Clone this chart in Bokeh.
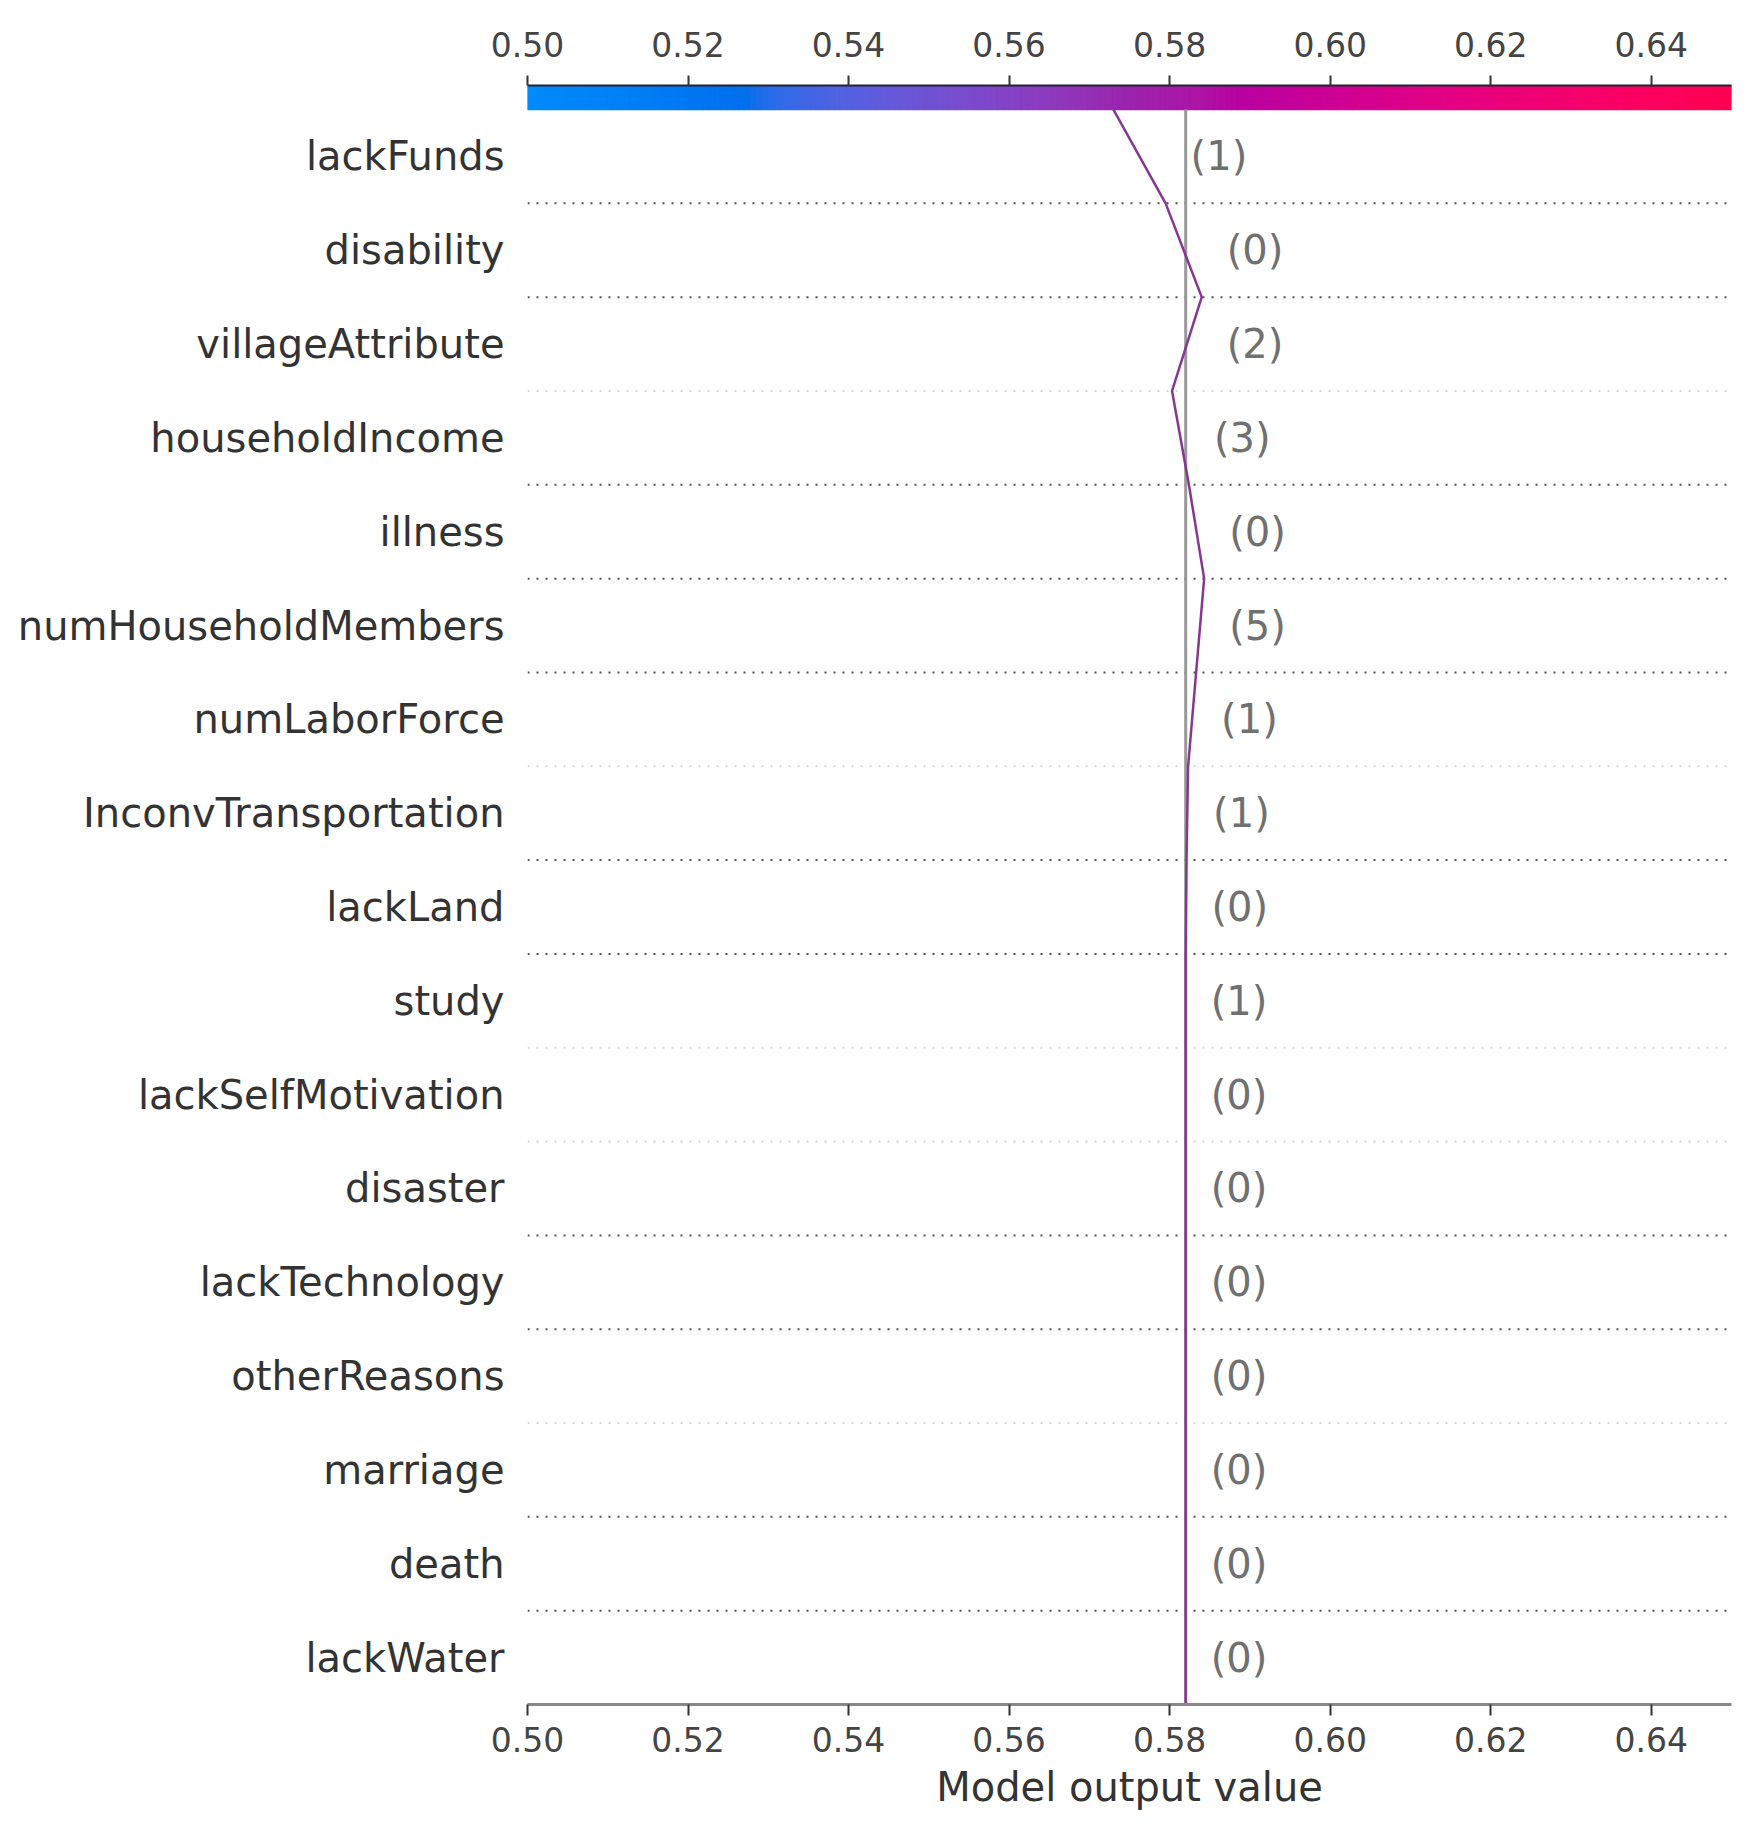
import numpy as np
from bokeh.plotting import figure
from bokeh.models import Range1d, FixedTicker, LinearAxis, NumeralTickFormatter
from bokeh.core.properties import value
from bokeh.embed import file_html
from bokeh.resources import INLINE

# ---------------- data (top to bottom, as drawn) ----------------
features = ["lackFunds", "disability", "villageAttribute", "householdIncome",
            "illness", "numHouseholdMembers", "numLaborForce",
            "InconvTransportation", "lackLand", "study", "lackSelfMotivation",
            "disaster", "lackTechnology", "otherReasons", "marriage", "death",
            "lackWater"]
feature_values = [1, 0, 2, 3, 0, 5, 1, 1, 0, 1, 0, 0, 0, 0, 0, 0, 0]
shap_values = [-0.0065, -0.0045, 0.0037, -0.0021, -0.0019, 0.0010, 0.0010,
               0.0002, 0.0001, 0.0, 0.0, 0.0, 0.0, 0.0, 0.0, 0.0, 0.0]
base_value = 0.5820
x_ticks = [0.50, 0.52, 0.54, 0.56, 0.58, 0.60, 0.62, 0.64]
x_min, x_max = 0.50, 0.65
x_label = "Model output value"

# style of the dotted separators (bottom to top), light ones are faded in the source
sep_light = [False, False, True, False, False, True, True, False, False,
             True, False, False, False, True, False, False]

FONT = "DejaVu Sans"
PATH_COLOR = "#86388f"

# ---------------- shap red_blue colormap (LCH interpolation) ----------------
def lch2rgb(l, c, h):
    a = c * np.cos(h)
    b = c * np.sin(h)
    fy = (l + 16.0) / 116.0
    fx = fy + a / 500.0
    fz = fy - b / 200.0

    def finv(t):
        return t ** 3 if t > 6.0 / 29.0 else 3 * (6.0 / 29.0) ** 2 * (t - 4.0 / 29.0)

    X = 0.95047 * finv(fx)
    Y = finv(fy)
    Z = 1.08883 * finv(fz)
    r = 3.2406 * X - 1.5372 * Y - 0.4986 * Z
    g = -0.9689 * X + 1.8758 * Y + 0.0415 * Z
    bb = 0.0557 * X - 0.2040 * Y + 1.0570 * Z
    out = []
    for ch in (r, g, bb):
        ch = 1.055 * ch ** (1 / 2.4) - 0.055 if ch > 0.0031308 else 12.92 * ch
        out.append(min(max(ch, 0.0), 1.0))
    return out


blue_lch = [54.0, 70.0, 4.6588]
l_mid = 40.0
red_lch = [54.0, 90.0, 0.35470565 + 2 * np.pi]
nsteps = 100
l_vals = list(np.linspace(blue_lch[0], l_mid, nsteps // 2)) + list(np.linspace(l_mid, red_lch[0], nsteps // 2))
c_vals = np.linspace(blue_lch[1], red_lch[1], nsteps)
h_vals = np.linspace(blue_lch[2], red_lch[2], nsteps)
cmap_rgb = np.array([lch2rgb(l, c, h) for l, c, h in zip(l_vals, c_vals, h_vals)])
cmap_pos = np.linspace(0, 1, nsteps)


def cmap(t):
    t = min(max(t, 0.0), 1.0)
    rgb = [np.interp(t, cmap_pos, cmap_rgb[:, k]) for k in range(3)]
    return "#%02x%02x%02x" % tuple(int(round(v * 255)) for v in rgb)


# ---------------- derived ----------------
n = len(features)
feats_bt = features[::-1]
vals_bt = feature_values[::-1]
shap_bt = shap_values[::-1]
cum = base_value + np.concatenate([[0.0], np.cumsum(shap_bt)])
y_path = np.arange(n + 1) - 0.5

bar_h = 0.256
p = figure(width=1752, height=1821,
           x_range=Range1d(x_min, x_max), y_range=Range1d(-0.5, n - 0.5 + bar_h),
           output_backend="svg", toolbar_location=None,
           min_border_left=527, min_border_right=21,
           min_border_top=85, min_border_bottom=117)
p.outline_line_color = None
p.grid.visible = False
p.background_fill_color = "white"

# colour bar at the top
nseg = 200
edges = np.linspace(x_min, x_max, nseg + 1)
mids = (edges[:-1] + edges[1:]) / 2
bar_cols = [cmap((m - x_min) / (x_max - x_min)) for m in mids]
p.quad(left=edges[:-1], right=edges[1:], bottom=n - 0.5, top=n - 0.5 + bar_h,
       fill_color=bar_cols, line_color=bar_cols, line_width=1.5)

# dotted separators
ys = np.arange(n - 1) + 0.5
for yy, light in zip(ys, sep_light):
    p.segment(x0=x_min, y0=yy, x1=x_max, y1=yy,
              line_color="#d6d6d6" if light else "#505050",
              line_width=2, line_dash="2 7")

# base value line
p.segment(x0=base_value, y0=-0.5, x1=base_value, y1=n - 0.5,
          line_color="#999999", line_width=3)

# decision path
p.line(cum, y_path, line_color=PATH_COLOR, line_width=2.5)

# feature value labels
label_x = [max(cum[i], cum[i + 1]) for i in range(n)]
p.text(x=label_x, y=list(range(n)), text=["(%s)" % v for v in vals_bt],
       x_offset=25, text_align="left", text_baseline="middle",
       text_font=value(FONT), text_font_size=value("40px"), text_color="#707070")

# y axis (feature names)
yax = p.yaxis[0]
yax.ticker = FixedTicker(ticks=list(range(n)))
yax.major_label_overrides = {i: feats_bt[i] for i in range(n)}
yax.axis_line_color = None
yax.major_tick_line_color = None
yax.minor_tick_line_color = None
yax.major_tick_out = 0
yax.major_tick_in = 0
yax.major_label_standoff = 23
yax.major_label_text_font = FONT
yax.major_label_text_font_size = "40px"
yax.major_label_text_color = "#333333"

# bottom x axis
xax = p.xaxis[0]
xax.ticker = FixedTicker(ticks=x_ticks)
xax.formatter = NumeralTickFormatter(format="0.00")
xax.axis_line_color = "#888888"
xax.axis_line_width = 3
xax.major_tick_line_color = "#333333"
xax.major_tick_line_width = 2
xax.major_tick_out = 11
xax.major_tick_in = 0
xax.minor_tick_line_color = None
xax.major_label_standoff = 11
xax.major_label_text_font = FONT
xax.major_label_text_font_size = "33px"
xax.major_label_text_color = "#444444"
xax.axis_label = x_label
xax.axis_label_text_font = FONT
xax.axis_label_text_font_size = "40px"
xax.axis_label_text_font_style = "normal"
xax.axis_label_text_color = "#333333"
xax.axis_label_standoff = 9

# top axis over the colour bar
top = LinearAxis(ticker=FixedTicker(ticks=x_ticks),
                 formatter=NumeralTickFormatter(format="0.00"))
top.axis_line_color = "#222233"
top.axis_line_width = 2
top.major_tick_line_color = "#333333"
top.major_tick_line_width = 2
top.major_tick_out = 10
top.major_tick_in = 0
top.minor_tick_line_color = None
top.major_label_standoff = 19
top.major_label_text_font = FONT
top.major_label_text_font_size = "33px"
top.major_label_text_color = "#444444"
p.add_layout(top, "above")

open("out.html", "w").write(file_html(p, INLINE))
